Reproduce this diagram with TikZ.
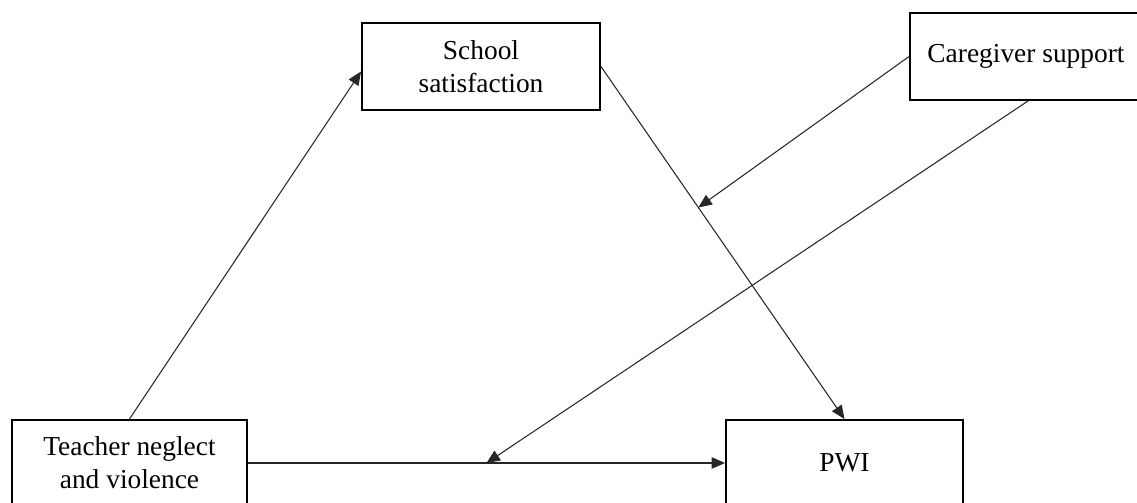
\documentclass[tikz,border=0pt]{standalone}
\usepackage{fontspec}
\setmainfont{Liberation Serif}
\usepackage{tikz}
\usetikzlibrary{arrows.meta, positioning, calc}
\tikzset{
    block/.style={
        rectangle,
        draw=black,
        line width=1.1pt,
        fill=white,
        align=center,
        inner sep=0pt,
        font=\fontsize{15.6}{18.8}\selectfont
    },
    connection/.style={
        draw=black!85,
        line width=0.6pt,
        -{Triangle[length=0.27cm, width=0.23cm]}
    }
}
\begin{document}
\begin{tikzpicture}[x=0.02cm, y=-0.02cm]
\useasboundingbox (0,0) rectangle (1137,503);
\clip (0,0) rectangle (1137,503);
% Variables
\node[block, minimum width=4.76cm, minimum height=1.74cm] (school) at (481,66.5) {School\\satisfaction};
\node[block, minimum width=4.64cm, minimum height=1.74cm] (care) at (1026,56.5) {Caregiver support};
\node[block, minimum width=4.70cm, minimum height=1.72cm] (teacher) at (129.5,463) {Teacher neglect\\and violence};
\node[block, minimum width=4.74cm, minimum height=1.72cm] (pwi) at (844.5,463) {PWI};

% Moderation points
\coordinate (mod1) at ($(school.east)!0.40!(pwi.north)$);
\coordinate (mod2) at ($(teacher.east)!0.50!(pwi.west)$);

\draw[connection] (teacher.north) -- ($(school.west)+(0,5)$);
\draw[connection] (school.east) -- (pwi.north);
\draw[connection] (teacher.east) -- (pwi.west);
\draw[connection] (care.west) -- (mod1);
\draw[connection] ($(care.south)+(2,0)$) -- (mod2);
\end{tikzpicture}
\end{document}
